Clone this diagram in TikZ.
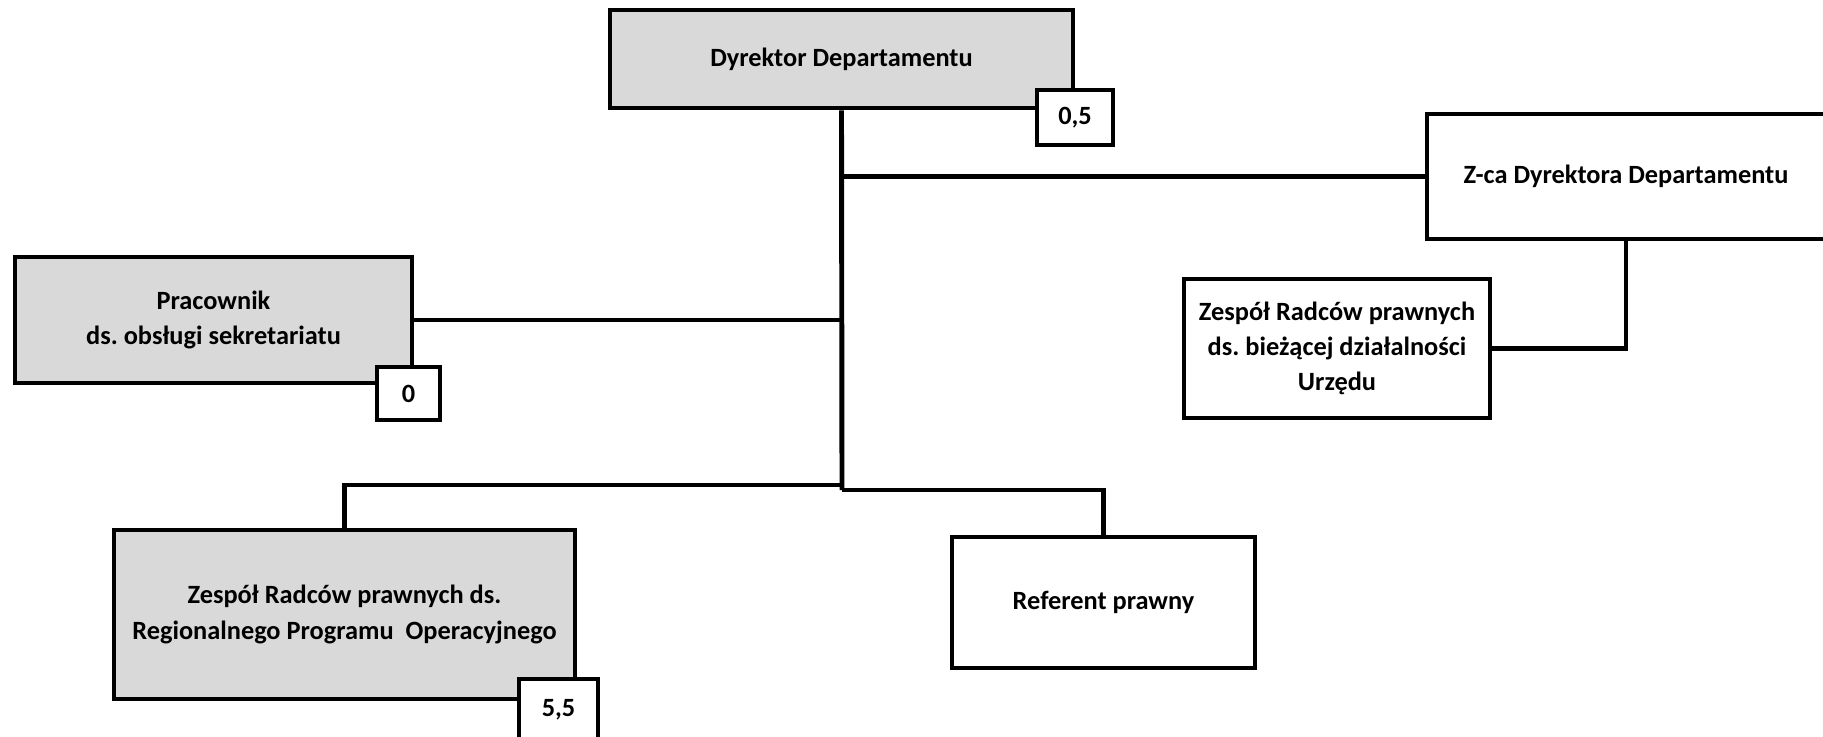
\documentclass[tikz,border=0pt]{standalone}
\usepackage{fontspec}
\setmainfont{Carlito}
\frenchspacing
\begin{document}
\begin{tikzpicture}[
    x=0.02cm, y=-0.02cm,
    line width=2.8pt,
    unit/.style={draw, line width=2.8pt, inner sep=0pt, align=center,
      font=\bfseries\fontsize{15}{20}\selectfont},
    dims/.style args={#1x#2}{minimum width=#1*0.02cm, minimum height=#2*0.02cm},
    head/.style={unit, fill=black!15},
    post/.style={unit, fill=white},
    badge/.style={unit, fill=white}
  ]
  \useasboundingbox (0,0) rectangle (1823,737);
  \node[head, dims=463x98] (dyr) at (841.5,59) {Dyrektor Departamentu};
  \node[post, dims=398x125] (zca) at (1626,176.5) {Z-ca Dyrektora Departamentu};
  \node[head, dims=397x126] (prac) at (213.5,320) {Pracownik\\ds. obsługi sekretariatu};
  \node[post, dims=306x139] (zrb) at (1337,348.5)
    {Zespół Radców prawnych\\ds. bieżącej działalności\\Urzędu};
  \node[head, dims=461x169] (rpo) at (344.5,614.5)
    {Zespół Radców prawnych ds.\\Regionalnego Programu~ Operacyjnego};
  \node[post, dims=303x131] (ref) at (1103.5,602.5) {Referent prawny};

  \node[badge, dims=76x55] (b05) at (1075,117.5) {0,5};
  \node[badge, dims=63x53] (b0) at (408.5,393.5) {0};
  \node[badge, dims=79x62] (b55) at (558.5,710) {5,5};

  \coordinate (trunkL) at (842,485);
  \coordinate (trunkR) at (842,490);
  \draw (dyr.south) -- (trunkR);
  \draw (dyr.south |- zca.west) -- (zca.west);
  \draw (prac.east) -- (prac.east -| dyr.south);
  \draw (trunkL) -| (rpo.north);
  \draw (trunkR) -| (ref.north);
  \draw (zca.south) |- (zrb.east);
\end{tikzpicture}
\end{document}
